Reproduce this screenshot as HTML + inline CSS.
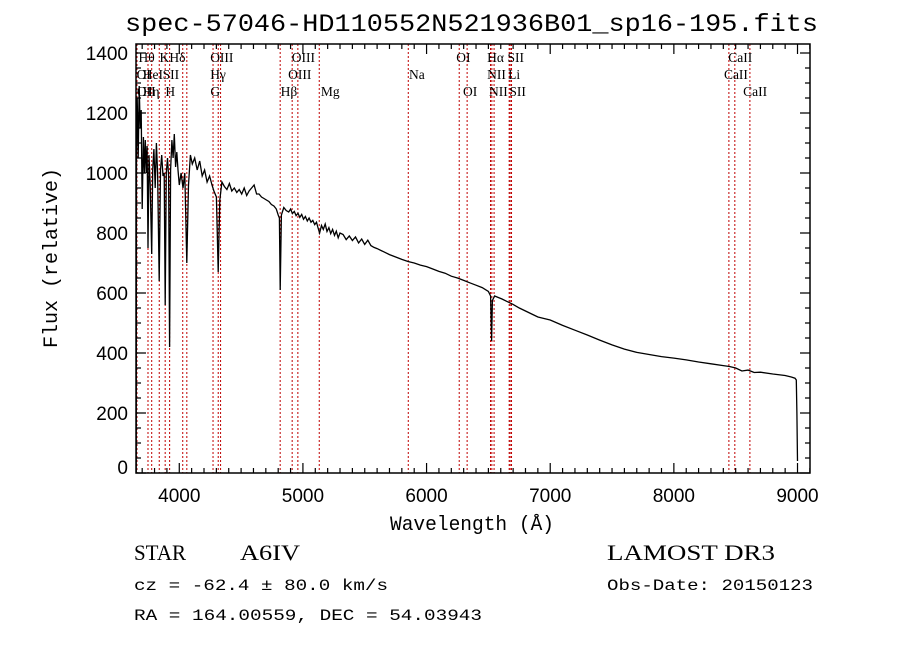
<!DOCTYPE html>
<html><head><meta charset="utf-8"><style>
html,body{margin:0;padding:0;background:#fff;width:900px;height:649px;overflow:hidden}
svg{display:block}
text{font-family:"Liberation Serif",serif;fill:#000}
.mono{font-family:"Liberation Mono",monospace}
.tk{font-family:"Liberation Sans",sans-serif;font-size:19px}
.ln{font-size:13.5px}
</style></head><body>
<svg id="chart" width="900" height="649" viewBox="0 0 900 649" xmlns="http://www.w3.org/2000/svg">
<text class="mono" x="125" y="31" font-size="25" textLength="693" lengthAdjust="spacingAndGlyphs">spec-57046-HD110552N521936B01_sp16-195.fits</text>
<text class="mono" x="390" y="530" font-size="20" textLength="164" lengthAdjust="spacingAndGlyphs">Wavelength (Å)</text>
<text class="mono" transform="translate(57,258) rotate(-90)" font-size="20" text-anchor="middle">Flux (relative)</text>
<text x="134" y="560" font-size="22" textLength="52" lengthAdjust="spacingAndGlyphs">STAR</text>
<text x="240" y="560" font-size="22" textLength="60" lengthAdjust="spacingAndGlyphs">A6IV</text>
<text x="607" y="560" font-size="22" textLength="168" lengthAdjust="spacingAndGlyphs">LAMOST DR3</text>
<text class="mono" x="134" y="590" font-size="16" textLength="254" lengthAdjust="spacingAndGlyphs">cz = -62.4 ± 80.0 km/s</text>
<text class="mono" x="607" y="590" font-size="16" textLength="206" lengthAdjust="spacingAndGlyphs">Obs-Date: 20150123</text>
<text class="mono" x="134" y="620" font-size="16" textLength="348" lengthAdjust="spacingAndGlyphs">RA = 164.00559, DEC =  54.03943</text>
<g id="lines"></g><g id="axes"></g><g id="spec"></g>
</svg>
<script>
const xTicks=[4000,5000,6000,7000,8000,9000];
const yTicks=[0,200,400,600,800,1000,1200,1400];
const lineWaves=[3658,3747,3777,3838,3886,3922,4028,4061,4273,4315,4334,4816,4913,4959,5132,5852,6264,6328,6517,6528,6546,6668,6676,6687,8445,8493,8615];
const labelText=["Hθ","K","Hδ","OIII","OIII","OI","Hα","SII","CaII","OI","HeI","SII","Hγ","OIII","Na","NII","Li","CaII","OII","Hη","H","G","Hβ","Mg","OI","NII","SII","CaII"];
const labelWave=[3670,3840,3920,4250,4910,6240,6490,6655,8440,3655,3705,3865,4250,4880,5858,6490,6660,8405,3657,3705,3888,4252,4820,5145,6295,6505,6670,8560];
const labelRow=[0,0,0,0,0,0,0,0,0,1,1,1,1,1,1,1,1,1,2,2,2,2,2,2,2,2,2,2];
const specWave=[
3652,3654,3660,3668,3676,3684,3692,3700,3710,3718,
3725,3733,3740,3747,3755,3765,3777,3785,3795,3805,
3815,3825,3838,3848,3858,3868,3878,3886,3895,3905,
3914,3922,3930,3940,3950,3960,3970,3980,3990,4000,
4015,4030,4045,4061,4075,4090,4105,4125,4145,4165,
4185,4205,4225,4245,4265,4280,4300,4315,4328,4345,
4365,4385,4405,4425,4445,4465,4485,4505,4525,4545,
4565,4585,4605,4625,4645,4665,4685,4705,4725,4745,
4765,4785,4800,4810,4816,4826,4845,4865,4885,4900,
4915,4930,4945,4960,4975,4990,5005,5020,5035,5050,
5065,5080,5095,5110,5120,5135,5150,5165,5180,5195,
5210,5225,5240,5255,5270,5285,5300,5325,5350,5375,
5400,5425,5450,5475,5500,5525,5550,5575,5600,5650,
5700,5750,5800,5850,5900,5950,6000,6050,6100,6150,
6200,6250,6300,6350,6400,6450,6500,6518,6526,6532,
6550,6580,6610,6650,6700,6750,6800,6850,6900,6950,
7000,7100,7200,7300,7400,7500,7600,7700,7800,7900,
8000,8100,8200,8300,8400,8450,8500,8550,8600,8650,
8700,8800,8900,8950,8980,8990,8995,9000];
const specFlux=[
0,1100,1250,1050,1290,1150,1210,880,1120,1000,
1110,1000,1090,750,1060,960,730,1010,1080,950,
1100,1000,640,1010,1060,990,1000,560,1000,1050,
990,420,1010,1110,1050,1130,1020,1070,1010,960,
1000,950,1000,700,960,1060,1030,1050,1010,1040,
990,1010,970,990,960,940,920,670,910,970,
955,945,965,940,950,935,945,930,950,925,
940,950,960,930,930,920,915,910,905,895,
890,880,860,850,610,860,885,875,870,880,
865,872,858,866,852,862,846,855,840,850,
836,842,828,836,820,800,825,812,830,805,
818,798,812,792,806,784,800,795,778,790,
775,787,767,780,762,776,758,752,748,738,
728,720,712,705,700,693,688,680,672,666,
656,650,642,634,626,618,605,590,440,575,
590,585,580,572,562,550,540,530,520,515,
510,492,476,460,443,427,413,402,395,388,
383,377,370,364,358,355,350,340,343,335,
336,330,325,320,316,310,200,40];
const X0=136,X1=810,Y0=473,Y1=44,XMIN=3650,XMAX=9101,YMIN=0,YMAX=1430;
const xs=v=>X0+(v-XMIN)/(XMAX-XMIN)*(X1-X0);
const ys=v=>Y0-(v-YMIN)/(YMAX-YMIN)*(Y0-Y1);
const NS='http://www.w3.org/2000/svg';
function mk(tag,parent){const e=document.createElementNS(NS,tag);parent.appendChild(e);return e;}
const gl=document.getElementById('lines'),ga=document.getElementById('axes'),gs=document.getElementById('spec');
lineWaves.forEach(w=>{const l=mk('line',gl);


l.setAttribute('x1',xs(w));l.setAttribute('x2',xs(w));l.setAttribute('y1',Y1);l.setAttribute('y2',Y0);
l.setAttribute('stroke','#c00000');l.setAttribute('stroke-width','1');l.setAttribute('stroke-dasharray','2,2');});
const rowY=[62,79,96];
labelText.forEach((t,i)=>{const e=mk('text',gl);


e.setAttribute('class','ln');e.setAttribute('x',xs(labelWave[i]));e.setAttribute('y',rowY[labelRow[i]]);e.textContent=t;});
let d='';const n=Math.min(specWave.length,specFlux.length);
for(let i=0;i<n;i++){d+=(i?'L':'M')+xs(specWave[i]).toFixed(1)+' '+ys(specFlux[i]).toFixed(1);}
const p=mk('path',gs);


p.setAttribute('d',d);p.setAttribute('fill','none');p.setAttribute('stroke','#000');p.setAttribute('stroke-width','1.3');
const box=mk('rect',ga);


box.setAttribute('x',X0);box.setAttribute('y',Y1);box.setAttribute('width',X1-X0);box.setAttribute('height',Y0-Y1);box.setAttribute('fill','none');box.setAttribute('stroke','#000');box.setAttribute('stroke-width','1.5');
let td='';
for(let w=3700;w<=XMAX;w+=100){const x=xs(w);const L=(w%1000===0)?10:5;td+=`M${x} ${Y0}v${-L}M${x} ${Y1}v${L}`;}
for(let v=0;v<=YMAX;v+=50){const y=ys(v);const L=(v%200===0)?10:5;td+=`M${X0} ${y}h${L}M${X1} ${y}h${-L}`;}
const tp=mk('path',ga);


tp.setAttribute('d',td);tp.setAttribute('stroke','#000');tp.setAttribute('stroke-width','1.2');
xTicks.forEach(v=>{const t=mk('text',ga);


t.setAttribute('class','tk');t.setAttribute('x',xs(v));t.setAttribute('y',502);t.setAttribute('text-anchor','middle');t.textContent=v;});
yTicks.forEach(v=>{const t=mk('text',ga);


t.setAttribute('class','tk');t.setAttribute('x',128);t.setAttribute('y',Math.min(ys(v)+7,474));t.setAttribute('text-anchor','end');t.textContent=v;});
</script>
</body></html>
